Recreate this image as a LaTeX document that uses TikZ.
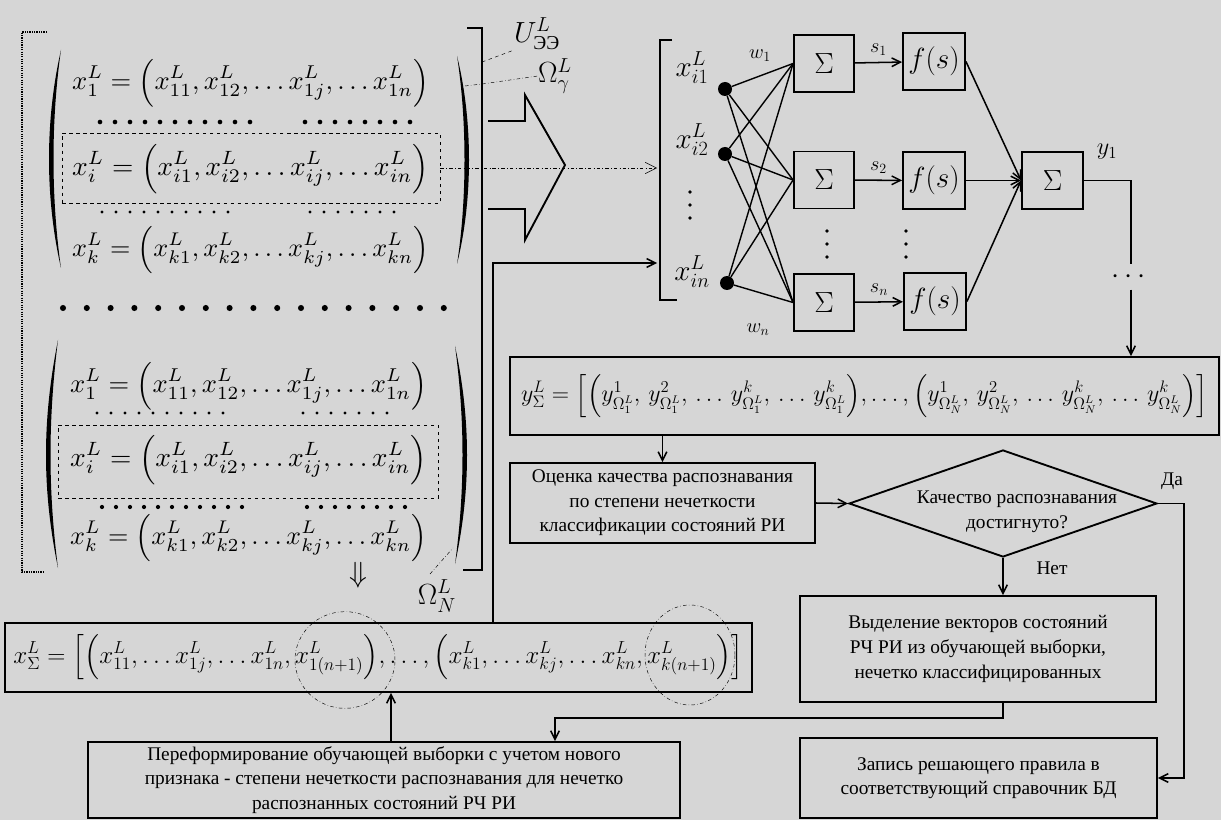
\documentclass[tikz,border=0pt]{standalone}
\usepackage{amsmath}
\usepackage{fontspec}
\setmainfont{Liberation Serif}
\usetikzlibrary{shapes.geometric, arrows.meta, positioning}

\newcommand{\fitm}[2]{\resizebox{#1}{!}{$\displaystyle #2$}}

\begin{document}
\begin{tikzpicture}[x=0.03cm, y=-0.03cm,
	blok/.style={rectangle, draw, line width=1.6pt, align=center, inner sep=1pt,
	             font=\fontsize{16.5}{21}\selectfont},
	sbox/.style={rectangle, draw, line width=1.6pt, minimum width=1.8cm, minimum height=1.71cm,
	             inner sep=0pt, font=\fontsize{24}{28}\selectfont},
	romb/.style={diamond, draw, line width=1.6pt, minimum width=9.24cm, minimum height=3.21cm,
	             inner sep=0pt},
	dbox/.style={rectangle, draw, dashed, line width=0.8pt, inner sep=0pt},
	txt/.style={font=\fontsize{16.5}{21}\selectfont, align=center, inner sep=0pt},
	mth/.style={font=\fontsize{24}{28}\selectfont, inner sep=0pt},
	lbl/.style={font=\fontsize{17}{19}\selectfont, inner sep=0pt},
	arr/.style={-{Straight Barb[length=2.6mm, width=2.6mm]}, line width=1.3pt},
	ln/.style={line width=1.2pt},
	dot/.style={circle, fill, inner sep=0pt, minimum size=0.42cm}
	]
\fill[black!16] (0,0) rectangle (1221,820);
\useasboundingbox (0,0) rectangle (1221,820);

% training sample, two groups of state vectors
\draw[densely dotted, line width=1pt] (47,32) -| (22,572) -- (44,572);
\draw[ln] (467,28) -- (482,28) -- (482,570) -- (463,570);

\fill (61,50) .. controls (45,120) and (45,198) .. (61,268) .. controls (51,198) and (51,120) .. (61,50);
\fill (457,56) .. controls (473,120) and (473,200) .. (457,264) .. controls (467,200) and (467,120) .. (457,56);
\fill (58,340) .. controls (42,420) and (42,490) .. (58,568) .. controls (48,490) and (48,420) .. (58,340);
\fill (455,346) .. controls (471,420) and (471,490) .. (455,564) .. controls (465,490) and (465,420) .. (455,346);

\node[dbox, minimum width=11.34cm, minimum height=2.1cm] (db1) at (251,168) {};
\node[dbox, minimum width=11.4cm, minimum height=2.19cm] (db2) at (248,461.5) {};

\node[anchor=west, inner sep=0pt] (r1a) at (72,83)
	{\fitm{10.7cm}{x^L_1=\Bigl(x^L_{11},x^L_{12},\ldots x^L_{1j},\ldots x^L_{1n}\Bigr)}};
\node[anchor=west, inner sep=0pt] (r1b) at (72,169)
	{\fitm{10.7cm}{x^L_i=\Bigl(x^L_{i1},x^L_{i2},\ldots x^L_{ij},\ldots x^L_{in}\Bigr)}};
\node[anchor=west, inner sep=0pt] (r1c) at (72,250)
	{\fitm{10.7cm}{x^L_k=\Bigl(x^L_{k1},x^L_{k2},\ldots x^L_{kj},\ldots x^L_{kn}\Bigr)}};
\node[anchor=west, inner sep=0pt] (r2a) at (70,386)
	{\fitm{10.7cm}{x^L_1=\Bigl(x^L_{11},x^L_{12},\ldots x^L_{1j},\ldots x^L_{1n}\Bigr)}};
\node[anchor=west, inner sep=0pt] (r2b) at (70,460)
	{\fitm{10.7cm}{x^L_i=\Bigl(x^L_{i1},x^L_{i2},\ldots x^L_{ij},\ldots x^L_{in}\Bigr)}};
\node[anchor=west, inner sep=0pt] (r2c) at (70,538)
	{\fitm{10.7cm}{x^L_k=\Bigl(x^L_{k1},x^L_{k2},\ldots x^L_{kj},\ldots x^L_{kn}\Bigr)}};

\foreach \x in {100,115,...,250} \fill (\x,122) circle (2pt);
\foreach \x in {305,320,...,410} \fill (\x,122) circle (2pt);
\foreach \x in {102,116,...,238} \fill (\x,212) circle (1.3pt);
\foreach \x in {310,324,...,400} \fill (\x,212) circle (1.3pt);
\foreach \i in {0,...,16} \fill ({63+23.8*\i},308) circle (2.6pt);
\foreach \x in {97,111,...,230} \fill (\x,413) circle (1.3pt);
\foreach \x in {303,317,...,393} \fill (\x,413) circle (1.3pt);
\foreach \x in {102,116,...,248} \fill (\x,507) circle (1.8pt);
\foreach \x in {307,321,...,407} \fill (\x,507) circle (1.8pt);

\node[mth] (U) at (537,34) {$U^{L}_{\text{ЭЭ}}$};
\node[mth] (om1) at (555,76) {$\Omega^{L}_{\gamma}$};
\node[mth] (om2) at (437,596) {$\Omega^{L}_{N}$};
\draw[dashed, thin] (482,62) -- (U.south west);
\draw[dash dot, thin] (465,86) -- (482,84) -- (om1.west);
\draw[dash dot, thin] (430,574) -- (453,548);
\node[font=\fontsize{30}{32}\selectfont, inner sep=0pt] (dn) at (358,575) {$\Downarrow$};

% hollow arrow into the network
\draw[line width=1.6pt] (488,121) -- (525,121) -- (525,95) -- (565,165) -- (525,240) -- (525,209) -- (488,209);

% network input
\draw[ln] (672,40) -- (660,40) -- (660,300) -- (677,300);
\coordinate (inA) at (657,165);
\coordinate (inB) at (657,263);
\draw[dash dot, thin, -{Straight Barb[length=3.4mm, width=3.4mm]}] (db1.east) -- (db1.east -| inA);

\node[mth] (xa) at (692,68) {$x^{L}_{i1}$};
\node[mth] (xb) at (692,140) {$x^{L}_{i2}$};
\node[mth] (xc) at (692,272) {$x^{L}_{in}$};
\foreach \y in {192,205,218} \fill (690,\y) circle (1.6pt);

\node[dot] (d1) at (725,89) {};
\node[dot] (d2) at (725,154) {};
\node[dot] (d3) at (727,283) {};

\node[sbox] (S1) at (824,63.5) {$\Sigma$};
\node[sbox] (S2) at (824,180) {$\Sigma$};
\node[sbox] (S3) at (824,302.5) {$\Sigma$};
\foreach \y in {231,244,257} \fill (827,\y) circle (1.6pt);

\foreach \a in {d1,d2,d3}
	\foreach \b in {S1,S2,S3}
		\draw[ln] (\a) -- (\b.west);

\node[lbl] (w1) at (760,56) {$w_1$};
\node[lbl] (wn) at (758,330) {$w_n$};

\node[sbox, minimum width=1.86cm] (F1) at (934,61.5) {$f(s)$};
\node[sbox, minimum width=1.86cm] (F2) at (934,180.5) {$f(s)$};
\node[sbox, minimum width=1.86cm] (F3) at (935,301.5) {$f(s)$};
\foreach \y in {231,244,257} \fill (906,\y) circle (1.6pt);

\draw[arr] (S1) -- (F1) node[lbl, midway, above=5pt] {$s_1$};
\draw[arr] (S2) -- (F2) node[lbl, midway, above=5pt] {$s_2$};
\draw[arr] (S3) -- (F3) node[lbl, midway, above=5pt] {$s_n$};

\node[sbox, minimum width=1.83cm] (So) at (1052.5,180.5) {$\Sigma$};
\draw[arr] (F1.east) -- (So.west);
\draw[arr] (F2.east) -- (So.west);
\draw[arr] (F3.east) -- (So.west);
\node[lbl, font=\fontsize{20}{22}\selectfont] (y1) at (1107,152) {$y_1$};

\node[mth, minimum height=0.75cm] (yd) at (1131,277) {$\cdots$};
\draw[ln] (So.east) -| (yd.north);

% outputs and decision part
\node[blok, minimum width=21.27cm, minimum height=2.34cm] (ys) at (864.5,396)
	{\fitm{20.6cm}{y^L_{\Sigma}=\Bigl[\Bigl(y^1_{\Omega^L_1},\,y^2_{\Omega^L_1},\,\ldots\,y^k_{\Omega^L_1},\,\ldots\,y^k_{\Omega^L_1}\Bigr),\ldots,\Bigl(y^1_{\Omega^L_N},\,y^2_{\Omega^L_N},\,\ldots\,y^k_{\Omega^L_N},\,\ldots\,y^k_{\Omega^L_N}\Bigr)\Bigr]}};
\draw[arr] (yd.south) -- (yd.south |- ys.north);

\node[blok, minimum width=9.15cm, minimum height=2.4cm] (ocen) at (662.5,503)
	{Оценка качества распознавания\\по степени нечеткости\\классификации состояний РИ};
\draw[arr] (ocen.north |- ys.south) -- (ocen.north);

\node[romb] (q) at (1003,503.5) {};
\node[txt] (qt) at (1017,512) {Качество распознавания\\достигнуто?};
\draw[arr] (ocen.east) -- (q.west);

\node[blok, minimum width=10.68cm, minimum height=3.18cm] (vyd) at (978,649)
	{Выделение векторов состояний\\РЧ РИ из обучающей выборки,\\нечетко классифицированных};
\node[blok, minimum width=10.71cm, minimum height=2.4cm] (zap) at (978.5,778)
	{Запись решающего правила в\\соответствующий справочник БД};

\draw[arr] (q.south) -- (q.south |- vyd.north);
\node[txt] (net) at (1052,568) {Нет};
\draw[arr] (q.east) -- ++(26,0) |- (zap.east);
\node[txt] (da) at (1172,481) {Да};

\node[blok, minimum width=22.41cm, minimum height=2.07cm] (xs) at (378.5,657.5)
	{\fitm{21.9cm}{x^L_{\Sigma}=\Bigl[\Bigl(x^L_{11},\ldots x^L_{1j},\ldots x^L_{1n},x^L_{1(n+1)}\Bigr),\ldots,\Bigl(x^L_{k1},\ldots x^L_{kj},\ldots x^L_{kn},x^L_{k(n+1)}\Bigr)\Bigr]}};
\node[ellipse, draw, dash dot, thin, minimum width=3cm, minimum height=2.9cm] (e1) at (345,660) {};
\node[ellipse, draw, dash dot, thin, minimum width=2.7cm, minimum height=3cm] (e2) at (690,655) {};

\node[blok, minimum width=17.76cm, minimum height=2.28cm] (pf) at (384,780)
	{Переформирование обучающей выборки с учетом нового\\признака - степени нечеткости распознавания для нечетко\\распознанных состояний РЧ РИ};

\coordinate (fb) at (493,263);
\draw[arr] (fb |- xs.north) -- (fb) -- (inB);
\coordinate (c2) at (555,718);
\draw[arr] (vyd.south -| q.south) |- (c2) -- (c2 |- pf.north);
\coordinate (c3) at (391,700);
\draw[arr] (pf.north -| c3) -- (xs.south -| c3);
\end{tikzpicture}
\end{document}
